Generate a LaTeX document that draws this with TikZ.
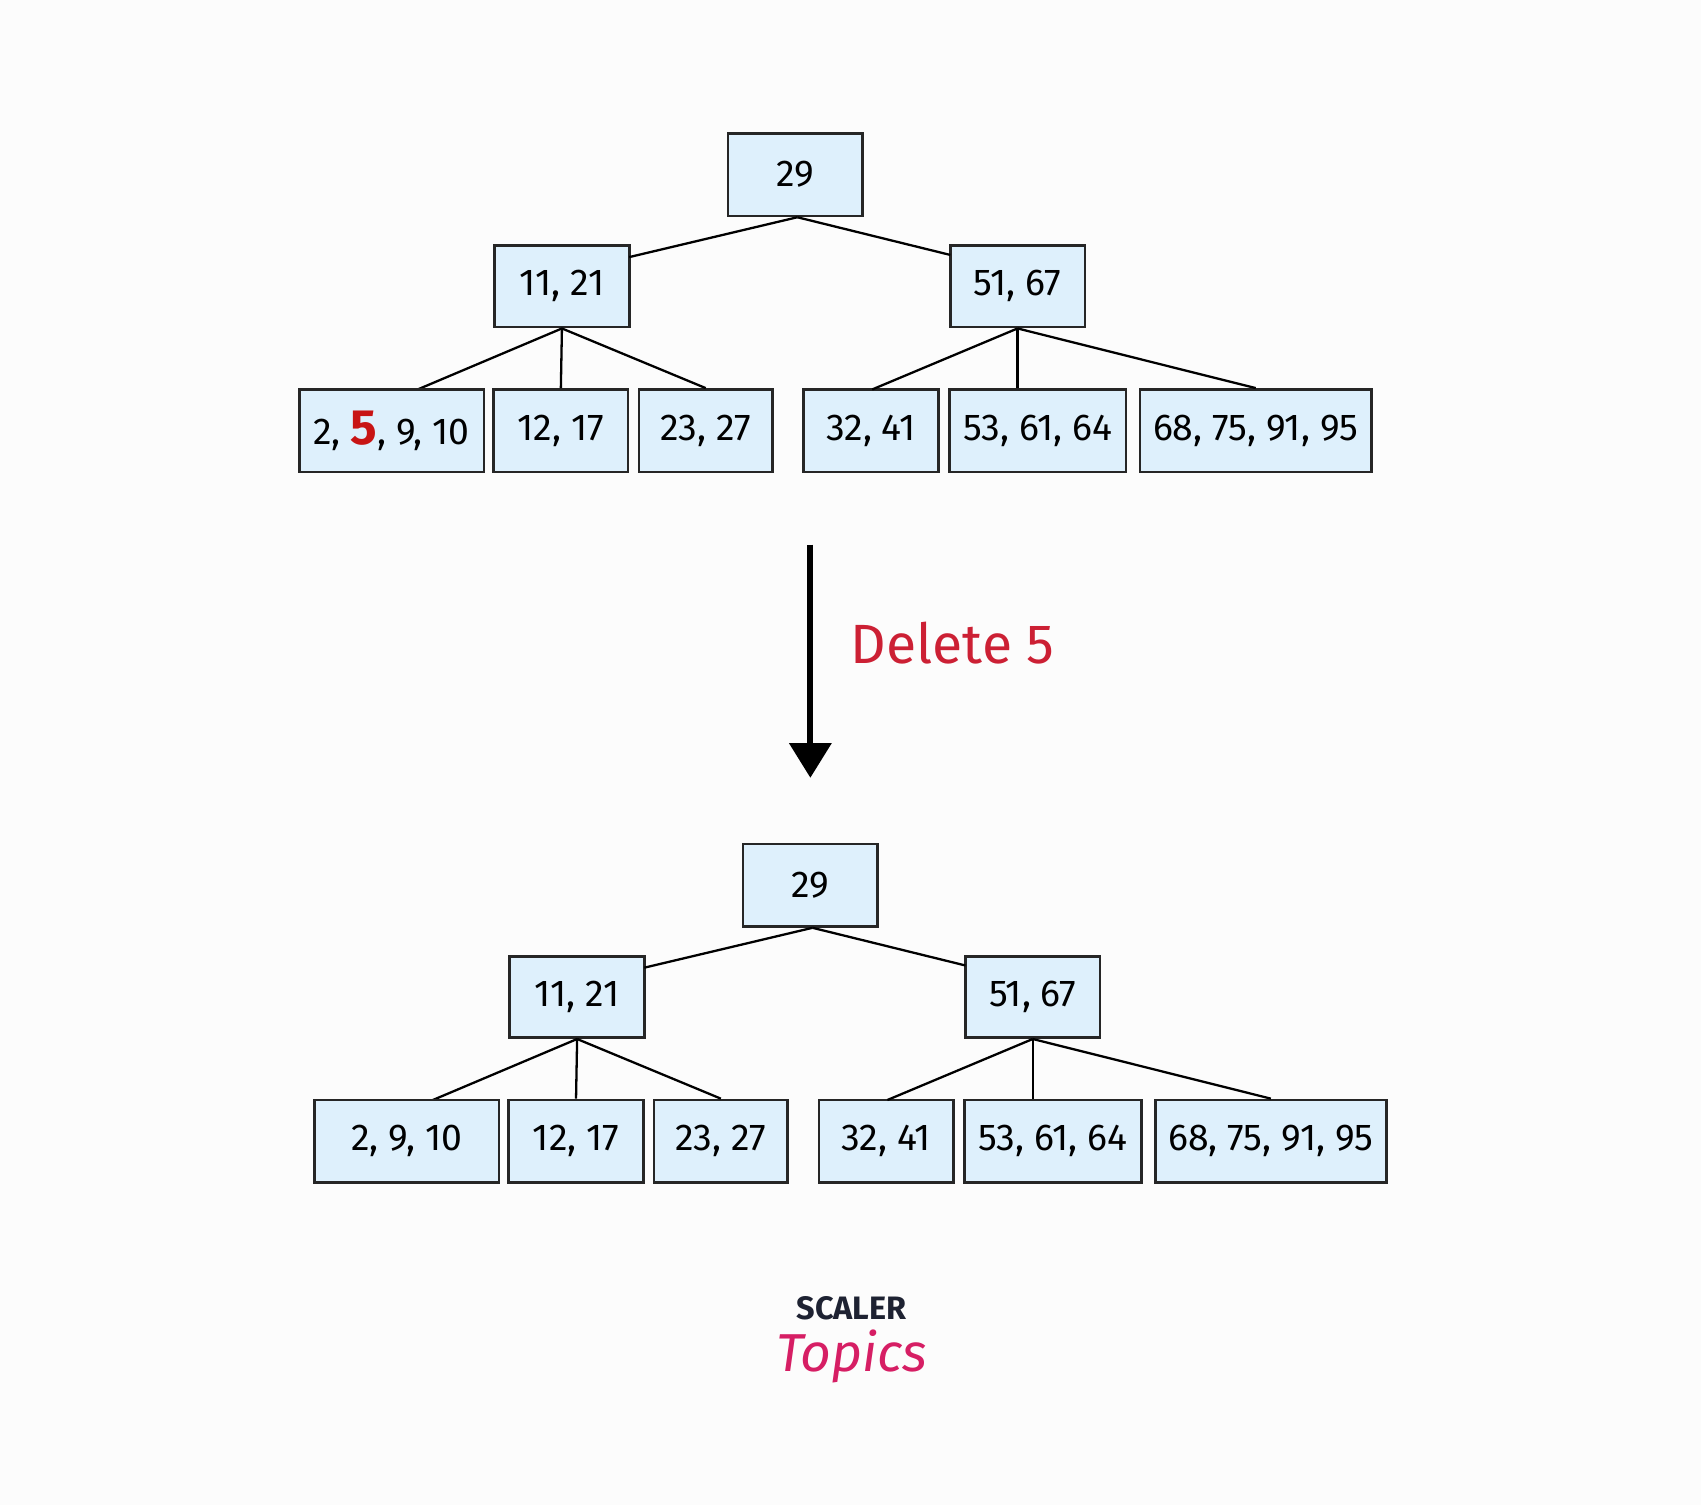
\documentclass[tikz,border=0pt]{standalone}
\usepackage{fontspec}
\setmainfont{Fira Sans}
\usetikzlibrary{arrows.meta}
\definecolor{boxfill}{RGB}{222,240,252}
\definecolor{delred}{RGB}{204,32,52}
\definecolor{fivered}{RGB}{200,20,20}
\definecolor{logodark}{RGB}{30,34,50}
\definecolor{logopink}{RGB}{214,30,100}
\tikzset{
 kbox/.style={draw=black!85,fill=boxfill,line width=0.7pt,inner sep=0pt,font=\fontsize{9.8}{11}\selectfont},
 edge/.style={draw=black,line width=0.6pt}
}
\begin{document}
\begin{tikzpicture}[x=0.01cm,y=-0.01cm]
\useasboundingbox (0,0) rectangle (1568,1387);
\fill[white!98!gray] (0,0) rectangle (1568,1387);
\foreach \dx/\dy/\t in {0/0/1,14/655/2}{
 \begin{scope}[shift={(\dx,\dy)}]
 \node[kbox,minimum width=1.24cm,minimum height=0.76cm] (r\t) at (733,161) {29};
 \node[kbox,minimum width=1.24cm,minimum height=0.75cm] (a\t) at (518,264) {11, 21};
 \node[kbox,minimum width=1.24cm,minimum height=0.75cm] (b\t) at (938,264) {51, 67};
 \node[kbox,minimum width=1.24cm,minimum height=0.76cm] (l2\t) at (517,397) {12, 17};
 \node[kbox,minimum width=1.23cm,minimum height=0.76cm] (l3\t) at (650.5,397) {23, 27};
 \node[kbox,minimum width=1.24cm,minimum height=0.76cm] (l4\t) at (803,397) {32, 41};
 \node[kbox,minimum width=1.63cm,minimum height=0.76cm] (l5\t) at (956.5,397) {53, 61, 64};
 \node[kbox,minimum width=2.13cm,minimum height=0.76cm] (l6\t) at (1157.5,397) {68, 75, 91, 95};
 \coordinate (ra\t) at (580,237);
 \coordinate (rb\t) at (876,235);
 \draw[edge] (r\t.south) ++(2,0) coordinate (rs\t) -- (ra\t);
 \draw[edge] (rs\t) -- (rb\t);
 \draw[edge] (a\t.south) -- (385,359);
 \draw[edge] (a\t.south) -- (l2\t.north);
 \draw[edge] (a\t.south) -- (l3\t.north);
 \draw[edge] (b\t.south) -- (804,359);
 \draw[edge] (b\t.south) -- (l5\t.north -| b\t.south);
 \draw[edge] (b\t.south) -- (l6\t.north);
 \end{scope}}
\node[kbox,minimum width=1.70cm,minimum height=0.76cm] (l11) at (361,397) {2, {\fontsize{13}{13}\selectfont\bfseries\color{fivered}5}, 9, 10};
\node[kbox,minimum width=1.70cm,minimum height=0.76cm] (l12) at (375,1052) {2, 9, 10};
\coordinate (as) at (747,502);
\coordinate (ae) at (747,717);
\draw[line width=1.6pt,-{Triangle[length=0.32cm,width=0.38cm]}] (as) -- (ae);
\node[anchor=west,text=delred,font=\fontsize{14.5}{18}\selectfont] (del) at (772,593) {Delete 5};
\node[font=\fontsize{8.5}{9}\selectfont\bfseries,text=logodark] (sc) at (785,1206) {SCALER};
\node[font=\fontsize{14}{16}\selectfont\itshape,text=logopink] (tp) at (785,1250) {Topics};
\end{tikzpicture}
\end{document}
